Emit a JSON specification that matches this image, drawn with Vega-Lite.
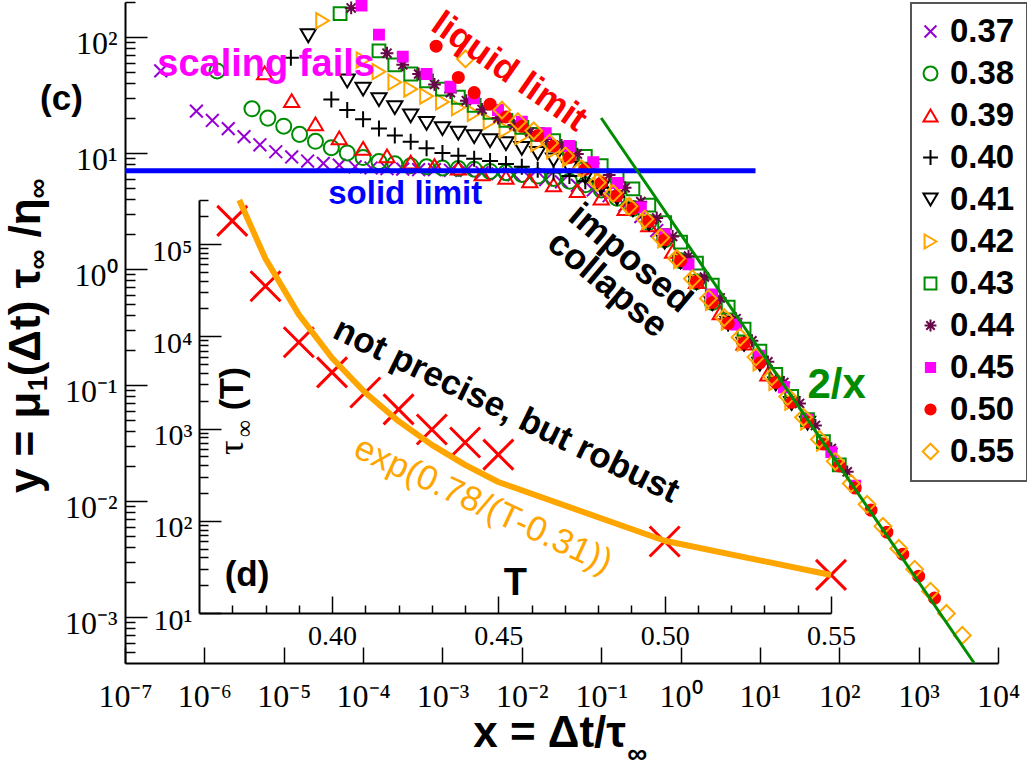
{
  "$schema": "https://vega.github.io/schema/vega-lite/v6.json",
  "description": "Scaling collapse y = mu1(dt) tau/eta vs x = dt/tau, with inset tau(T)",
  "width": 873,
  "height": 661,
  "autosize": "none",
  "padding": {"left": 125, "top": 2, "right": 29, "bottom": 105},
  "background": "white",
  "config": {
    "view": {"stroke": null},
    "axis": {"grid": false, "domainColor": "black", "tickColor": "black", "labelColor": "black"},
    "legend": {"strokeWidth": 2}
  },
  "resolve": {
    "scale": {"x": "independent", "y": "independent"},
    "axis": {"x": "independent", "y": "independent"}
  },
  "datasets": {
    "series": [
      {"T": "0.37", "x": 2.82e-7, "y": 50.9},
      {"T": "0.37", "x": 7.94e-7, "y": 22.9},
      {"T": "0.37", "x": 1.26e-6, "y": 19.05},
      {"T": "0.37", "x": 2.0e-6, "y": 16.2},
      {"T": "0.37", "x": 3.16e-6, "y": 13.8},
      {"T": "0.37", "x": 5.01e-6, "y": 11.75},
      {"T": "0.37", "x": 7.94e-6, "y": 10.23},
      {"T": "0.37", "x": 1.26e-5, "y": 9.23},
      {"T": "0.37", "x": 2.0e-5, "y": 8.51},
      {"T": "0.37", "x": 3.16e-5, "y": 8.13},
      {"T": "0.37", "x": 5.01e-5, "y": 7.85},
      {"T": "0.37", "x": 7.94e-5, "y": 7.59},
      {"T": "0.37", "x": 1.26e-4, "y": 7.41},
      {"T": "0.37", "x": 2.0e-4, "y": 7.33},
      {"T": "0.37", "x": 3.16e-4, "y": 7.24},
      {"T": "0.37", "x": 5.01e-4, "y": 7.16},
      {"T": "0.37", "x": 7.94e-4, "y": 7.16},
      {"T": "0.37", "x": 1.26e-3, "y": 7.08},
      {"T": "0.37", "x": 2.0e-3, "y": 7.08},
      {"T": "0.37", "x": 3.16e-3, "y": 6.76},
      {"T": "0.37", "x": 5.01e-3, "y": 6.61},
      {"T": "0.37", "x": 7.94e-3, "y": 6.46},
      {"T": "0.37", "x": 0.0126, "y": 6.17},
      {"T": "0.37", "x": 0.02, "y": 5.89},
      {"T": "0.37", "x": 0.0316, "y": 5.62},
      {"T": "0.37", "x": 0.0501, "y": 5.25},
      {"T": "0.37", "x": 0.0794, "y": 4.79},
      {"T": "0.37", "x": 0.126, "y": 4.27},
      {"T": "0.37", "x": 0.2, "y": 3.55},
      {"T": "0.37", "x": 0.316, "y": 2.82},
      {"T": "0.37", "x": 0.501, "y": 2.14},

      {"T": "0.38", "x": 1.445e-6, "y": 50.9},
      {"T": "0.38", "x": 3.98e-6, "y": 23.99},
      {"T": "0.38", "x": 6.31e-6, "y": 19.95},
      {"T": "0.38", "x": 1.0e-5, "y": 16.98},
      {"T": "0.38", "x": 1.585e-5, "y": 14.45},
      {"T": "0.38", "x": 2.51e-5, "y": 12.59},
      {"T": "0.38", "x": 3.98e-5, "y": 11.09},
      {"T": "0.38", "x": 6.31e-5, "y": 10.0},
      {"T": "0.38", "x": 1.0e-4, "y": 9.12},
      {"T": "0.38", "x": 1.585e-4, "y": 8.41},
      {"T": "0.38", "x": 2.51e-4, "y": 8.04},
      {"T": "0.38", "x": 3.98e-4, "y": 7.76},
      {"T": "0.38", "x": 6.31e-4, "y": 7.59},
      {"T": "0.38", "x": 1.0e-3, "y": 7.41},
      {"T": "0.38", "x": 1.585e-3, "y": 7.33},
      {"T": "0.38", "x": 2.51e-3, "y": 7.24},
      {"T": "0.38", "x": 3.98e-3, "y": 6.92},
      {"T": "0.38", "x": 6.31e-3, "y": 6.76},
      {"T": "0.38", "x": 0.01, "y": 6.53},
      {"T": "0.38", "x": 0.01585, "y": 6.31},
      {"T": "0.38", "x": 0.0251, "y": 6.03},
      {"T": "0.38", "x": 0.0398, "y": 5.69},
      {"T": "0.38", "x": 0.0631, "y": 5.31},
      {"T": "0.38", "x": 0.1, "y": 4.79},
      {"T": "0.38", "x": 0.1585, "y": 4.07},
      {"T": "0.38", "x": 0.251, "y": 3.31},
      {"T": "0.38", "x": 0.398, "y": 2.51},
      {"T": "0.38", "x": 0.631, "y": 1.78},
      {"T": "0.38", "x": 1.0, "y": 1.175},
      {"T": "0.38", "x": 1.585, "y": 0.776},
      {"T": "0.38", "x": 2.51, "y": 0.513},

      {"T": "0.39", "x": 5.75e-6, "y": 48.98},
      {"T": "0.39", "x": 1.26e-5, "y": 28.18},
      {"T": "0.39", "x": 2.51e-5, "y": 17.78},
      {"T": "0.39", "x": 5.01e-5, "y": 13.49},
      {"T": "0.39", "x": 1.0e-4, "y": 10.96},
      {"T": "0.39", "x": 2.0e-4, "y": 9.44},
      {"T": "0.39", "x": 3.98e-4, "y": 8.32},
      {"T": "0.39", "x": 7.94e-4, "y": 7.76},
      {"T": "0.39", "x": 1.585e-3, "y": 7.41},
      {"T": "0.39", "x": 3.16e-3, "y": 6.61},
      {"T": "0.39", "x": 6.31e-3, "y": 6.17},
      {"T": "0.39", "x": 0.0126, "y": 5.75},
      {"T": "0.39", "x": 0.0251, "y": 5.31},
      {"T": "0.39", "x": 0.0501, "y": 4.73},
      {"T": "0.39", "x": 0.1, "y": 4.07},
      {"T": "0.39", "x": 0.2, "y": 3.31},
      {"T": "0.39", "x": 0.398, "y": 2.4},
      {"T": "0.39", "x": 0.794, "y": 1.413},
      {"T": "0.39", "x": 1.585, "y": 0.776},
      {"T": "0.39", "x": 3.16, "y": 0.417},
      {"T": "0.39", "x": 6.31, "y": 0.229},
      {"T": "0.39", "x": 12.6, "y": 0.124},

      {"T": "0.40", "x": 1.23e-5, "y": 66.1},
      {"T": "0.40", "x": 3.98e-5, "y": 28.84},
      {"T": "0.40", "x": 6.31e-5, "y": 23.44},
      {"T": "0.40", "x": 1.0e-4, "y": 19.5},
      {"T": "0.40", "x": 1.585e-4, "y": 16.22},
      {"T": "0.40", "x": 2.51e-4, "y": 14.13},
      {"T": "0.40", "x": 3.98e-4, "y": 12.45},
      {"T": "0.40", "x": 6.31e-4, "y": 10.96},
      {"T": "0.40", "x": 1.0e-3, "y": 10.0},
      {"T": "0.40", "x": 1.585e-3, "y": 9.44},
      {"T": "0.40", "x": 2.51e-3, "y": 8.91},
      {"T": "0.40", "x": 3.98e-3, "y": 8.51},
      {"T": "0.40", "x": 6.31e-3, "y": 8.04},
      {"T": "0.40", "x": 0.01, "y": 7.59},
      {"T": "0.40", "x": 0.01585, "y": 7.16},
      {"T": "0.40", "x": 0.0251, "y": 6.76},
      {"T": "0.40", "x": 0.0398, "y": 6.31},
      {"T": "0.40", "x": 0.0631, "y": 5.69},
      {"T": "0.40", "x": 0.1, "y": 5.01},
      {"T": "0.40", "x": 0.1585, "y": 4.17},
      {"T": "0.40", "x": 0.251, "y": 3.31},
      {"T": "0.40", "x": 0.398, "y": 2.51},
      {"T": "0.40", "x": 0.631, "y": 1.74},
      {"T": "0.40", "x": 1.0, "y": 1.175},
      {"T": "0.40", "x": 1.585, "y": 0.776},
      {"T": "0.40", "x": 2.51, "y": 0.513},
      {"T": "0.40", "x": 3.98, "y": 0.339},
      {"T": "0.40", "x": 6.31, "y": 0.229},
      {"T": "0.40", "x": 10.0, "y": 0.155},
      {"T": "0.40", "x": 15.85, "y": 0.105},
      {"T": "0.40", "x": 25.1, "y": 0.0708},

      {"T": "0.41", "x": 2.04e-5, "y": 102.3},
      {"T": "0.41", "x": 6.31e-5, "y": 41.69},
      {"T": "0.41", "x": 1.0e-4, "y": 35.48},
      {"T": "0.41", "x": 1.585e-4, "y": 28.84},
      {"T": "0.41", "x": 2.51e-4, "y": 24.55},
      {"T": "0.41", "x": 3.98e-4, "y": 20.89},
      {"T": "0.41", "x": 6.31e-4, "y": 17.99},
      {"T": "0.41", "x": 1.0e-3, "y": 16.22},
      {"T": "0.41", "x": 1.585e-3, "y": 14.79},
      {"T": "0.41", "x": 2.51e-3, "y": 13.8},
      {"T": "0.41", "x": 3.98e-3, "y": 12.74},
      {"T": "0.41", "x": 6.31e-3, "y": 12.02},
      {"T": "0.41", "x": 0.01, "y": 10.96},
      {"T": "0.41", "x": 0.01585, "y": 9.89},
      {"T": "0.41", "x": 0.0251, "y": 8.71},
      {"T": "0.41", "x": 0.0398, "y": 7.41},
      {"T": "0.41", "x": 0.0631, "y": 6.17},
      {"T": "0.41", "x": 0.1, "y": 5.01},
      {"T": "0.41", "x": 0.1585, "y": 4.07},
      {"T": "0.41", "x": 0.251, "y": 3.24},
      {"T": "0.41", "x": 0.398, "y": 2.45},
      {"T": "0.41", "x": 0.631, "y": 1.7},
      {"T": "0.41", "x": 1.0, "y": 1.148},
      {"T": "0.41", "x": 1.585, "y": 0.759},
      {"T": "0.41", "x": 2.51, "y": 0.501},
      {"T": "0.41", "x": 3.98, "y": 0.339},
      {"T": "0.41", "x": 6.31, "y": 0.224},
      {"T": "0.41", "x": 10.0, "y": 0.151},
      {"T": "0.41", "x": 15.85, "y": 0.102},
      {"T": "0.41", "x": 25.1, "y": 0.0692},
      {"T": "0.41", "x": 39.8, "y": 0.0468},

      {"T": "0.42", "x": 3.09e-5, "y": 138},
      {"T": "0.42", "x": 1.0e-4, "y": 63.1},
      {"T": "0.42", "x": 1.585e-4, "y": 50.1},
      {"T": "0.42", "x": 2.51e-4, "y": 40.7},
      {"T": "0.42", "x": 3.98e-4, "y": 35.5},
      {"T": "0.42", "x": 6.31e-4, "y": 30.9},
      {"T": "0.42", "x": 1.0e-3, "y": 27.5},
      {"T": "0.42", "x": 1.585e-3, "y": 24.5},
      {"T": "0.42", "x": 2.51e-3, "y": 21.9},
      {"T": "0.42", "x": 3.98e-3, "y": 18.6},
      {"T": "0.42", "x": 6.31e-3, "y": 15.85},
      {"T": "0.42", "x": 0.01, "y": 13.8},
      {"T": "0.42", "x": 0.01585, "y": 12.02},
      {"T": "0.42", "x": 0.0251, "y": 10.47},
      {"T": "0.42", "x": 0.0398, "y": 8.91},
      {"T": "0.42", "x": 0.0631, "y": 7.41},
      {"T": "0.42", "x": 0.1, "y": 5.89},
      {"T": "0.42", "x": 0.1585, "y": 4.57},
      {"T": "0.42", "x": 0.251, "y": 3.47},
      {"T": "0.42", "x": 0.398, "y": 2.57},
      {"T": "0.42", "x": 0.631, "y": 1.78},
      {"T": "0.42", "x": 1.0, "y": 1.175},
      {"T": "0.42", "x": 1.585, "y": 0.776},
      {"T": "0.42", "x": 2.51, "y": 0.513},
      {"T": "0.42", "x": 3.98, "y": 0.347},
      {"T": "0.42", "x": 6.31, "y": 0.229},
      {"T": "0.42", "x": 10.0, "y": 0.155},
      {"T": "0.42", "x": 15.85, "y": 0.105},
      {"T": "0.42", "x": 25.1, "y": 0.0708},
      {"T": "0.42", "x": 39.8, "y": 0.0479},
      {"T": "0.42", "x": 63.1, "y": 0.0316},

      {"T": "0.43", "x": 5.13e-5, "y": 158.5},
      {"T": "0.43", "x": 1.585e-4, "y": 75.9},
      {"T": "0.43", "x": 2.51e-4, "y": 57.5},
      {"T": "0.43", "x": 3.98e-4, "y": 47.9},
      {"T": "0.43", "x": 6.31e-4, "y": 41.7},
      {"T": "0.43", "x": 1.0e-3, "y": 35.5},
      {"T": "0.43", "x": 1.585e-3, "y": 30.2},
      {"T": "0.43", "x": 2.51e-3, "y": 25.7},
      {"T": "0.43", "x": 3.98e-3, "y": 22.4},
      {"T": "0.43", "x": 6.31e-3, "y": 19.05},
      {"T": "0.43", "x": 0.01, "y": 16.6},
      {"T": "0.43", "x": 0.01585, "y": 14.45},
      {"T": "0.43", "x": 0.0251, "y": 12.74},
      {"T": "0.43", "x": 0.0398, "y": 10.96},
      {"T": "0.43", "x": 0.0631, "y": 9.33},
      {"T": "0.43", "x": 0.1, "y": 7.76},
      {"T": "0.43", "x": 0.1585, "y": 6.31},
      {"T": "0.43", "x": 0.251, "y": 4.9},
      {"T": "0.43", "x": 0.398, "y": 3.55},
      {"T": "0.43", "x": 0.631, "y": 2.51},
      {"T": "0.43", "x": 1.0, "y": 1.7},
      {"T": "0.43", "x": 1.585, "y": 1.122},
      {"T": "0.43", "x": 2.51, "y": 0.724},
      {"T": "0.43", "x": 3.98, "y": 0.468},
      {"T": "0.43", "x": 6.31, "y": 0.302},
      {"T": "0.43", "x": 10.0, "y": 0.195},
      {"T": "0.43", "x": 15.85, "y": 0.123},
      {"T": "0.43", "x": 25.1, "y": 0.0794},
      {"T": "0.43", "x": 39.8, "y": 0.0501},
      {"T": "0.43", "x": 63.1, "y": 0.0324},
      {"T": "0.43", "x": 100, "y": 0.0204},

      {"T": "0.44", "x": 7.08e-5, "y": 177.8},
      {"T": "0.44", "x": 2.0e-4, "y": 72.4},
      {"T": "0.44", "x": 3.16e-4, "y": 57.5},
      {"T": "0.44", "x": 5.01e-4, "y": 47.9},
      {"T": "0.44", "x": 7.94e-4, "y": 38.9},
      {"T": "0.44", "x": 1.26e-3, "y": 33.1},
      {"T": "0.44", "x": 2.0e-3, "y": 28.2},
      {"T": "0.44", "x": 3.16e-3, "y": 23.7},
      {"T": "0.44", "x": 5.01e-3, "y": 19.95},
      {"T": "0.44", "x": 7.94e-3, "y": 17.38},
      {"T": "0.44", "x": 0.0126, "y": 15.14},
      {"T": "0.44", "x": 0.02, "y": 13.18},
      {"T": "0.44", "x": 0.0316, "y": 11.61},
      {"T": "0.44", "x": 0.0501, "y": 9.77},
      {"T": "0.44", "x": 0.0794, "y": 8.13},
      {"T": "0.44", "x": 0.126, "y": 6.46},
      {"T": "0.44", "x": 0.2, "y": 5.01},
      {"T": "0.44", "x": 0.316, "y": 3.8},
      {"T": "0.44", "x": 0.501, "y": 2.75},
      {"T": "0.44", "x": 0.794, "y": 1.905},
      {"T": "0.44", "x": 1.26, "y": 1.288},
      {"T": "0.44", "x": 2.0, "y": 0.851},
      {"T": "0.44", "x": 3.16, "y": 0.562},
      {"T": "0.44", "x": 5.01, "y": 0.372},
      {"T": "0.44", "x": 7.94, "y": 0.24},
      {"T": "0.44", "x": 12.6, "y": 0.158},
      {"T": "0.44", "x": 20.0, "y": 0.105},
      {"T": "0.44", "x": 31.6, "y": 0.0692},
      {"T": "0.44", "x": 50.1, "y": 0.0447},
      {"T": "0.44", "x": 79.4, "y": 0.0282},
      {"T": "0.44", "x": 126, "y": 0.0178},

      {"T": "0.45", "x": 9.55e-5, "y": 186},
      {"T": "0.45", "x": 1.585e-4, "y": 104.7},
      {"T": "0.45", "x": 3.16e-4, "y": 67.6},
      {"T": "0.45", "x": 6.31e-4, "y": 47.9},
      {"T": "0.45", "x": 1.26e-3, "y": 37.15},
      {"T": "0.45", "x": 2.51e-3, "y": 29.5},
      {"T": "0.45", "x": 5.01e-3, "y": 23.4},
      {"T": "0.45", "x": 0.01, "y": 18.6},
      {"T": "0.45", "x": 0.02, "y": 14.8},
      {"T": "0.45", "x": 0.0398, "y": 11.48},
      {"T": "0.45", "x": 0.0794, "y": 8.32},
      {"T": "0.45", "x": 0.1585, "y": 5.5},
      {"T": "0.45", "x": 0.316, "y": 3.39},
      {"T": "0.45", "x": 0.631, "y": 1.995},
      {"T": "0.45", "x": 1.26, "y": 1.096},
      {"T": "0.45", "x": 2.51, "y": 0.603},
      {"T": "0.45", "x": 5.01, "y": 0.331},
      {"T": "0.45", "x": 10.0, "y": 0.178},
      {"T": "0.45", "x": 20.0, "y": 0.0955},
      {"T": "0.45", "x": 39.8, "y": 0.0501},
      {"T": "0.45", "x": 79.4, "y": 0.0263},
      {"T": "0.45", "x": 158.5, "y": 0.0135},

      {"T": "0.50", "x": 8.32e-4, "y": 83.2},
      {"T": "0.50", "x": 1.585e-3, "y": 44.7},
      {"T": "0.50", "x": 2.51e-3, "y": 33.1},
      {"T": "0.50", "x": 3.98e-3, "y": 26.3},
      {"T": "0.50", "x": 6.31e-3, "y": 20.4},
      {"T": "0.50", "x": 0.01, "y": 17.0},
      {"T": "0.50", "x": 0.01585, "y": 14.1},
      {"T": "0.50", "x": 0.0251, "y": 11.5},
      {"T": "0.50", "x": 0.0398, "y": 9.12},
      {"T": "0.50", "x": 0.0631, "y": 7.24},
      {"T": "0.50", "x": 0.1, "y": 5.5},
      {"T": "0.50", "x": 0.1585, "y": 4.27},
      {"T": "0.50", "x": 0.251, "y": 3.31},
      {"T": "0.50", "x": 0.398, "y": 2.57},
      {"T": "0.50", "x": 0.631, "y": 1.78},
      {"T": "0.50", "x": 1.0, "y": 1.175},
      {"T": "0.50", "x": 1.585, "y": 0.776},
      {"T": "0.50", "x": 2.51, "y": 0.513},
      {"T": "0.50", "x": 3.98, "y": 0.339},
      {"T": "0.50", "x": 6.31, "y": 0.229},
      {"T": "0.50", "x": 10.0, "y": 0.155},
      {"T": "0.50", "x": 15.85, "y": 0.105},
      {"T": "0.50", "x": 25.1, "y": 0.0708},
      {"T": "0.50", "x": 39.8, "y": 0.0479},
      {"T": "0.50", "x": 63.1, "y": 0.0309},
      {"T": "0.50", "x": 100, "y": 0.02},
      {"T": "0.50", "x": 158.5, "y": 0.0129},
      {"T": "0.50", "x": 251, "y": 0.00832},
      {"T": "0.50", "x": 398, "y": 0.00537},
      {"T": "0.50", "x": 631, "y": 0.00347},
      {"T": "0.50", "x": 1000, "y": 0.00224},
      {"T": "0.50", "x": 1585, "y": 0.00145},

      {"T": "0.55", "x": 1.95e-3, "y": 64.6},
      {"T": "0.55", "x": 5.62e-3, "y": 23.4},
      {"T": "0.55", "x": 8.91e-3, "y": 18.6},
      {"T": "0.55", "x": 0.01413, "y": 15.5},
      {"T": "0.55", "x": 0.0224, "y": 12.16},
      {"T": "0.55", "x": 0.0355, "y": 9.44},
      {"T": "0.55", "x": 0.0562, "y": 7.33},
      {"T": "0.55", "x": 0.0891, "y": 5.56},
      {"T": "0.55", "x": 0.1413, "y": 4.47},
      {"T": "0.55", "x": 0.224, "y": 3.47},
      {"T": "0.55", "x": 0.355, "y": 2.69},
      {"T": "0.55", "x": 0.562, "y": 1.862},
      {"T": "0.55", "x": 0.891, "y": 1.23},
      {"T": "0.55", "x": 1.413, "y": 0.822},
      {"T": "0.55", "x": 2.239, "y": 0.556},
      {"T": "0.55", "x": 3.548, "y": 0.38},
      {"T": "0.55", "x": 5.623, "y": 0.257},
      {"T": "0.55", "x": 8.913, "y": 0.174},
      {"T": "0.55", "x": 14.13, "y": 0.1175},
      {"T": "0.55", "x": 22.39, "y": 0.0794},
      {"T": "0.55", "x": 35.48, "y": 0.0525},
      {"T": "0.55", "x": 56.23, "y": 0.0339},
      {"T": "0.55", "x": 89.13, "y": 0.0219},
      {"T": "0.55", "x": 141.3, "y": 0.01413},
      {"T": "0.55", "x": 223.9, "y": 0.00933},
      {"T": "0.55", "x": 354.8, "y": 0.00603},
      {"T": "0.55", "x": 562.3, "y": 0.00389},
      {"T": "0.55", "x": 891.3, "y": 0.00257},
      {"T": "0.55", "x": 1413, "y": 0.00166},
      {"T": "0.55", "x": 2239, "y": 0.00107},
      {"T": "0.55", "x": 3548, "y": 0.000692}
    ],
    "inset": [
      {"temp": 0.37, "tau": 178000},
      {"temp": 0.38, "tau": 34900},
      {"temp": 0.39, "tau": 8610},
      {"temp": 0.40, "tau": 4060},
      {"temp": 0.41, "tau": 2460},
      {"temp": 0.42, "tau": 1610},
      {"temp": 0.43, "tau": 975},
      {"temp": 0.44, "tau": 705},
      {"temp": 0.45, "tau": 521},
      {"temp": 0.50, "tau": 59.6},
      {"temp": 0.55, "tau": 25.9}
    ],
    "curve": [
      {"temp": 0.3721, "tau": 300000},
      {"temp": 0.38, "tau": 69100},
      {"temp": 0.39, "tau": 17200},
      {"temp": 0.40, "tau": 5810},
      {"temp": 0.41, "tau": 2441},
      {"temp": 0.42, "tau": 1201},
      {"temp": 0.43, "tau": 665},
      {"temp": 0.44, "tau": 403},
      {"temp": 0.45, "tau": 263},
      {"temp": 0.50, "tau": 60.7},
      {"temp": 0.55, "tau": 25.8}
    ]
  },
  "layer": [
    {
      "data": {"name": "series"},
      "mark": {"type": "point", "size": 256, "strokeWidth": 2, "opacity": 1},
      "encoding": {
        "x": {
          "field": "x", "type": "quantitative",
          "scale": {"type": "log", "domain": [1e-7, 10000], "nice": false},
          "axis": {
            "orient": "bottom", "title": null,
            "values": [1e-7, 1e-6, 1e-5, 1e-4, 1e-3, 1e-2, 1e-1, 1, 10, 100, 1000, 10000],
            "labelExpr": "'10' + (datum.value < 0.9 ? '⁻' : '') + ['⁰','¹','²','³','⁴','⁵','⁶','⁷','⁸','⁹'][abs(round(log(datum.value) / LN10))]",
            "labelFont": "Liberation Serif", "labelFontSize": 32, "labelPadding": 34,
            "labelFlush": false, "labelOverlap": false,
            "tickSize": -16, "tickWidth": 1.5, "domainWidth": 2
          }
        },
        "y": {
          "field": "y", "type": "quantitative",
          "scale": {"type": "log", "domain": [0.0004, 200], "nice": false},
          "axis": {
            "orient": "left", "title": null,
            "values": [0.001, 0.01, 0.1, 1, 10, 100],
            "labelExpr": "'10' + (datum.value < 0.9 ? '⁻' : '') + ['⁰','¹','²','³','⁴','⁵','⁶','⁷','⁸','⁹'][abs(round(log(datum.value) / LN10))]",
            "labelFont": "Liberation Serif", "labelFontSize": 32, "labelPadding": 30,
            "labelOffset": 7, "labelFlush": false, "labelOverlap": false,
            "tickSize": -22, "tickWidth": 1.5, "domainWidth": 2
          }
        },
        "stroke": {
          "field": "T", "type": "nominal",
          "scale": {
            "domain": ["0.37", "0.38", "0.39", "0.40", "0.41", "0.42", "0.43", "0.44", "0.45", "0.50", "0.55"],
            "range": ["#9400d3", "#008c00", "#ff0000", "#000000", "#000000", "#ffa500", "#008c00", "#670748", "#ff00ff", "#ff0000", "#ffa500"]
          },
          "legend": {"orient": "none", "legendX": 786, "legendY": 1, "title": null, "padding": 12, "strokeColor": "#555555", "fillColor": "#ffffff", "labelFont": "Liberation Sans", "labelFontWeight": "bold", "labelFontSize": 33, "labelColor": "#000000", "labelOffset": 3, "symbolOffset": -9, "rowPadding": 8, "symbolSize": 220, "symbolStrokeWidth": 2}
        },
        "fill": {
          "field": "T", "type": "nominal",
          "scale": {
            "domain": ["0.37", "0.38", "0.39", "0.40", "0.41", "0.42", "0.43", "0.44", "0.45", "0.50", "0.55"],
            "range": ["transparent", "transparent", "transparent", "transparent", "transparent", "transparent", "transparent", "transparent", "#ff00ff", "#ff0000", "transparent"]
          },
          "legend": {"orient": "none", "legendX": 786, "legendY": 1, "title": null, "padding": 12, "strokeColor": "#555555", "fillColor": "#ffffff", "labelFont": "Liberation Sans", "labelFontWeight": "bold", "labelFontSize": 33, "labelColor": "#000000", "labelOffset": 3, "symbolOffset": -9, "rowPadding": 8, "symbolSize": 220, "symbolStrokeWidth": 2}
        },
        "shape": {
          "field": "T", "type": "nominal",
          "scale": {
            "domain": ["0.37", "0.38", "0.39", "0.40", "0.41", "0.42", "0.43", "0.44", "0.45", "0.50", "0.55"],
            "range": [
              "M-0.8,-0.8L0.8,0.8M-0.8,0.8L0.8,-0.8",
              "M0.94,0A0.94,0.94,0,1,1,-0.94,0A0.94,0.94,0,1,1,0.94,0Z",
              "M0,-0.8L0.95,0.8L-0.95,0.8Z",
              "M-1,0L1,0M0,-1L0,1",
              "M0,0.8L0.95,-0.8L-0.95,-0.8Z",
              "M0.8,0L-0.8,0.95L-0.8,-0.95Z",
              "M-0.8,-0.8L0.8,-0.8L0.8,0.8L-0.8,0.8Z",
              "M-0.8,0L0.8,0M0,-0.8L0,0.8M-0.57,-0.57L0.57,0.57M-0.57,0.57L0.57,-0.57",
              "M-0.62,-0.62L0.62,-0.62L0.62,0.62L-0.62,0.62Z",
              "M0.69,0A0.69,0.69,0,1,1,-0.69,0A0.69,0.69,0,1,1,0.69,0Z",
              "M0,-1.05L1.05,0L0,1.05L-1.05,0Z"
            ]
          },
          "legend": {"orient": "none", "legendX": 786, "legendY": 1, "title": null, "padding": 12, "strokeColor": "#555555", "fillColor": "#ffffff", "labelFont": "Liberation Sans", "labelFontWeight": "bold", "labelFontSize": 33, "labelColor": "#000000", "labelOffset": 3, "symbolOffset": -9, "rowPadding": 8, "symbolSize": 220, "symbolStrokeWidth": 2}
        }
      }
    },
    {
      "data": {"values": [{"x": 1e-7, "y": 7}, {"x": 8.8, "y": 7}]},
      "mark": {"type": "line", "color": "#0000ff", "strokeWidth": 5},
      "encoding": {
        "x": {"field": "x", "type": "quantitative", "scale": {"type": "log", "domain": [1e-7, 10000], "nice": false}, "axis": null},
        "y": {
          "field": "y", "type": "quantitative",
          "scale": {"type": "log", "domain": [0.0004, 200], "nice": false},
          "axis": {
            "orient": "left", "title": null, "labels": false, "domain": false,
            "values": [0.0005, 0.0006, 0.0007, 0.0008, 0.0009, 0.002, 0.003, 0.004, 0.005, 0.006, 0.007, 0.008, 0.009, 0.02, 0.03, 0.04, 0.05, 0.06, 0.07, 0.08, 0.09, 0.2, 0.3, 0.4, 0.5, 0.6, 0.7, 0.8, 0.9, 2, 3, 4, 5, 6, 7, 8, 9, 20, 30, 40, 50, 60, 70, 80, 90, 200],
            "tickSize": -10, "tickWidth": 1.5
          }
        }
      }
    },
    {
      "data": {"values": [{"x": 0.1, "y": 20}, {"x": 5000, "y": 0.0004}]},
      "mark": {"type": "line", "color": "#008c00", "strokeWidth": 3},
      "encoding": {
        "x": {"field": "x", "type": "quantitative", "scale": {"type": "log", "domain": [1e-7, 10000], "nice": false}, "axis": null},
        "y": {"field": "y", "type": "quantitative", "scale": {"type": "log", "domain": [0.0004, 200], "nice": false}, "axis": null}
      }
    },
    {
      "data": {"name": "inset"},
      "mark": {"type": "point", "shape": "M-1,-1L1,1M-1,1L1,-1", "size": 900, "strokeWidth": 3, "color": "#ff0000", "opacity": 1},
      "encoding": {
        "x": {
          "field": "temp", "type": "quantitative",
          "scale": {"domain": [0.36, 0.55], "range": [74, 706], "nice": false, "zero": false},
          "axis": {
            "orient": "bottom", "offset": -50, "title": null, "labels": false, "domain": false,
            "values": [0.37, 0.38, 0.39, 0.41, 0.42, 0.43, 0.44, 0.46, 0.47, 0.48, 0.49, 0.51, 0.52, 0.53, 0.54],
            "tickSize": -8, "tickWidth": 1.5
          }
        },
        "y": {
          "field": "tau", "type": "quantitative",
          "scale": {"type": "log", "domain": [10, 300000], "range": [611, 198], "nice": false},
          "axis": {
            "orient": "left", "offset": -74, "title": null, "labels": false, "domain": false,
            "values": [20, 30, 40, 50, 60, 70, 80, 90, 200, 300, 400, 500, 600, 700, 800, 900, 2000, 3000, 4000, 5000, 6000, 7000, 8000, 9000, 20000, 30000, 40000, 50000, 60000, 70000, 80000, 90000, 200000, 300000],
            "tickSize": -9, "tickWidth": 1.5
          }
        }
      }
    },
    {
      "data": {"name": "curve"},
      "mark": {"type": "line", "color": "#ffa500", "strokeWidth": 6, "strokeJoin": "round"},
      "encoding": {
        "x": {
          "field": "temp", "type": "quantitative",
          "scale": {"domain": [0.36, 0.55], "range": [74, 706], "nice": false, "zero": false},
          "axis": {
            "orient": "bottom", "offset": -50, "title": null,
            "values": [0.4, 0.45, 0.5, 0.55], "format": ".2f",
            "labelFont": "Liberation Serif", "labelFontSize": 28, "labelPadding": 26,
            "labelFlush": false, "labelOverlap": false,
            "tickSize": -17, "tickWidth": 1.5, "domainWidth": 2
          }
        },
        "y": {
          "field": "tau", "type": "quantitative",
          "scale": {"type": "log", "domain": [10, 300000], "range": [611, 198], "nice": false},
          "axis": {
            "orient": "left", "offset": -74, "title": null,
            "values": [10, 100, 1000, 10000, 100000],
            "labelExpr": "'10' + ['⁰','¹','²','³','⁴','⁵','⁶','⁷','⁸','⁹'][abs(round(log(datum.value) / LN10))]",
            "labelFont": "Liberation Serif", "labelFontSize": 30, "labelPadding": 29,
            "labelOffset": 7, "labelFlush": false, "labelOverlap": false,
            "tickSize": -22, "tickWidth": 1.5, "domainWidth": 2
          }
        }
      }
    },
    {
      "data": {"values": [{"label": "(c)", "x": 1.58e-8, "y": 23.3}, {"label": "(d)", "x": 3.45e-6, "y": 0.00185}]},
      "mark": {"type": "text", "font": "Liberation Sans", "fontWeight": "bold", "fontSize": 35, "color": "#000000", "align": "center", "baseline": "alphabetic"},
      "encoding": {
        "x": {"field": "x", "type": "quantitative", "scale": {"type": "log", "domain": [1e-7, 10000], "nice": false}, "axis": null},
        "y": {"field": "y", "type": "quantitative", "scale": {"type": "log", "domain": [0.0004, 200], "nice": false}, "axis": null},
        "text": {"field": "label"}
      }
    },
    {
      "data": {"values": [{"label": "scaling fails", "x": 6.0e-6, "y": 46.1}]},
      "mark": {"type": "text", "font": "Liberation Sans", "fontWeight": "bold", "fontSize": 38, "color": "#ff00ff", "align": "center", "baseline": "alphabetic"},
      "encoding": {
        "x": {"field": "x", "type": "quantitative", "scale": {"type": "log", "domain": [1e-7, 10000], "nice": false}, "axis": null},
        "y": {"field": "y", "type": "quantitative", "scale": {"type": "log", "domain": [0.0004, 200], "nice": false}, "axis": null},
        "text": {"field": "label"}
      }
    },
    {
      "data": {"values": [{"label": "liquid limit", "x": 6.95e-3, "y": 50}]},
      "mark": {"type": "text", "font": "Liberation Sans", "fontWeight": "bold", "fontSize": 36, "color": "#ff0000", "align": "center", "baseline": "middle", "angle": 35},
      "encoding": {
        "x": {"field": "x", "type": "quantitative", "scale": {"type": "log", "domain": [1e-7, 10000], "nice": false}, "axis": null},
        "y": {"field": "y", "type": "quantitative", "scale": {"type": "log", "domain": [0.0004, 200], "nice": false}, "axis": null},
        "text": {"field": "label"}
      }
    },
    {
      "data": {"values": [{"label": "solid limit", "x": 3.4e-4, "y": 3.66}]},
      "mark": {"type": "text", "font": "Liberation Sans", "fontWeight": "bold", "fontSize": 33, "color": "#0000ff", "align": "center", "baseline": "alphabetic"},
      "encoding": {
        "x": {"field": "x", "type": "quantitative", "scale": {"type": "log", "domain": [1e-7, 10000], "nice": false}, "axis": null},
        "y": {"field": "y", "type": "quantitative", "scale": {"type": "log", "domain": [0.0004, 200], "nice": false}, "axis": null},
        "text": {"field": "label"}
      }
    },
    {
      "data": {"values": [{"label": "imposed", "x": 0.233, "y": 1.229}, {"label": "collapse", "x": 0.1197, "y": 0.735}]},
      "mark": {"type": "text", "font": "Liberation Sans", "fontWeight": "bold", "fontSize": 36, "color": "#000000", "align": "center", "baseline": "middle", "angle": 40},
      "encoding": {
        "x": {"field": "x", "type": "quantitative", "scale": {"type": "log", "domain": [1e-7, 10000], "nice": false}, "axis": null},
        "y": {"field": "y", "type": "quantitative", "scale": {"type": "log", "domain": [0.0004, 200], "nice": false}, "axis": null},
        "text": {"field": "label"}
      }
    },
    {
      "data": {"values": [{"label": "2/x", "x": 92.5, "y": 0.0767}]},
      "mark": {"type": "text", "font": "Liberation Sans", "fontWeight": "bold", "fontSize": 42, "color": "#008c00", "align": "center", "baseline": "alphabetic"},
      "encoding": {
        "x": {"field": "x", "type": "quantitative", "scale": {"type": "log", "domain": [1e-7, 10000], "nice": false}, "axis": null},
        "y": {"field": "y", "type": "quantitative", "scale": {"type": "log", "domain": [0.0004, 200], "nice": false}, "axis": null},
        "text": {"field": "label"}
      }
    },
    {
      "data": {"values": [{"label": "not precise, but robust", "x": 6.38e-3, "y": 0.0604}]},
      "mark": {"type": "text", "font": "Liberation Sans", "fontWeight": "bold", "fontSize": 35, "color": "#000000", "align": "center", "baseline": "middle", "angle": 26},
      "encoding": {
        "x": {"field": "x", "type": "quantitative", "scale": {"type": "log", "domain": [1e-7, 10000], "nice": false}, "axis": null},
        "y": {"field": "y", "type": "quantitative", "scale": {"type": "log", "domain": [0.0004, 200], "nice": false}, "axis": null},
        "text": {"field": "label"}
      }
    },
    {
      "data": {"values": [{"label": "exp(0.78/(T-0.31))", "x": 3.27e-3, "y": 0.0092}]},
      "mark": {"type": "text", "font": "Liberation Sans", "fontSize": 35, "color": "#ffa500", "align": "center", "baseline": "middle", "angle": 25},
      "encoding": {
        "x": {"field": "x", "type": "quantitative", "scale": {"type": "log", "domain": [1e-7, 10000], "nice": false}, "axis": null},
        "y": {"field": "y", "type": "quantitative", "scale": {"type": "log", "domain": [0.0004, 200], "nice": false}, "axis": null},
        "text": {"field": "label"}
      }
    },
    {
      "data": {"values": [{"label": "T", "x": 8.28e-3, "y": 0.001545}]},
      "mark": {"type": "text", "font": "Liberation Sans", "fontWeight": "bold", "fontSize": 38, "color": "#000000", "align": "center", "baseline": "alphabetic"},
      "encoding": {
        "x": {"field": "x", "type": "quantitative", "scale": {"type": "log", "domain": [1e-7, 10000], "nice": false}, "axis": null},
        "y": {"field": "y", "type": "quantitative", "scale": {"type": "log", "domain": [0.0004, 200], "nice": false}, "axis": null},
        "text": {"field": "label"}
      }
    },
    {
      "data": {"values": [{"label": "(T)", "x": 3.08e-6, "y": 0.0604}]},
      "mark": {"type": "text", "font": "Liberation Sans", "fontWeight": "bold", "fontSize": 34, "color": "#000000", "align": "left", "baseline": "alphabetic", "angle": 270},
      "encoding": {
        "x": {"field": "x", "type": "quantitative", "scale": {"type": "log", "domain": [1e-7, 10000], "nice": false}, "axis": null},
        "y": {"field": "y", "type": "quantitative", "scale": {"type": "log", "domain": [0.0004, 200], "nice": false}, "axis": null},
        "text": {"field": "label"}
      }
    },
    {
      "data": {"values": [{"label": "τ", "x": 3.08e-6, "y": 0.0248}]},
      "mark": {"type": "text", "font": "Liberation Serif", "fontSize": 36, "color": "#000000", "align": "left", "baseline": "alphabetic", "angle": 270},
      "encoding": {
        "x": {"field": "x", "type": "quantitative", "scale": {"type": "log", "domain": [1e-7, 10000], "nice": false}, "axis": null},
        "y": {"field": "y", "type": "quantitative", "scale": {"type": "log", "domain": [0.0004, 200], "nice": false}, "axis": null},
        "text": {"field": "label"}
      }
    },
    {
      "data": {"values": [{"label": "∞", "x": 4.0e-6, "y": 0.0354}]},
      "mark": {"type": "text", "font": "Liberation Serif", "fontSize": 24, "color": "#000000", "align": "left", "baseline": "alphabetic", "angle": 270},
      "encoding": {
        "x": {"field": "x", "type": "quantitative", "scale": {"type": "log", "domain": [1e-7, 10000], "nice": false}, "axis": null},
        "y": {"field": "y", "type": "quantitative", "scale": {"type": "log", "domain": [0.0004, 200], "nice": false}, "axis": null},
        "text": {"field": "label"}
      }
    },
    {
      "data": {"values": [{"label": "x = Δt/τ", "x": 2.44e-3, "y": 7.6e-5}]},
      "mark": {"type": "text", "font": "Liberation Sans", "fontWeight": "bold", "fontSize": 44, "color": "#000000", "align": "left", "baseline": "alphabetic"},
      "encoding": {
        "x": {"field": "x", "type": "quantitative", "scale": {"type": "log", "domain": [1e-7, 10000], "nice": false}, "axis": null},
        "y": {"field": "y", "type": "quantitative", "scale": {"type": "log", "domain": [0.0004, 200], "nice": false}, "axis": null},
        "text": {"field": "label"}
      }
    },
    {
      "data": {"values": [{"label": "∞", "x": 0.2138, "y": 5.53e-5}]},
      "mark": {"type": "text", "font": "Liberation Sans", "fontWeight": "bold", "fontSize": 28, "color": "#000000", "align": "left", "baseline": "alphabetic"},
      "encoding": {
        "x": {"field": "x", "type": "quantitative", "scale": {"type": "log", "domain": [1e-7, 10000], "nice": false}, "axis": null},
        "y": {"field": "y", "type": "quantitative", "scale": {"type": "log", "domain": [0.0004, 200], "nice": false}, "axis": null},
        "text": {"field": "label"}
      }
    },
    {
      "data": {"values": [{"label": "y = μ", "x": 8.47e-9, "y": 0.01167}, {"label": "(Δt) τ", "x": 8.47e-9, "y": 0.1186}, {"label": "/η", "x": 8.47e-9, "y": 1.862}]},
      "mark": {"type": "text", "font": "Liberation Sans", "fontWeight": "bold", "fontSize": 44, "color": "#000000", "align": "left", "baseline": "alphabetic", "angle": 270},
      "encoding": {
        "x": {"field": "x", "type": "quantitative", "scale": {"type": "log", "domain": [1e-7, 10000], "nice": false}, "axis": null},
        "y": {"field": "y", "type": "quantitative", "scale": {"type": "log", "domain": [0.0004, 200], "nice": false}, "axis": null},
        "text": {"field": "label"}
      }
    },
    {
      "data": {"values": [{"label": "1", "x": 1.04e-8, "y": 0.0881}, {"label": "∞", "x": 1.04e-8, "y": 0.989}, {"label": "∞", "x": 1.04e-8, "y": 4.04}]},
      "mark": {"type": "text", "font": "Liberation Sans", "fontWeight": "bold", "fontSize": 28, "color": "#000000", "align": "left", "baseline": "alphabetic", "angle": 270},
      "encoding": {
        "x": {"field": "x", "type": "quantitative", "scale": {"type": "log", "domain": [1e-7, 10000], "nice": false}, "axis": null},
        "y": {"field": "y", "type": "quantitative", "scale": {"type": "log", "domain": [0.0004, 200], "nice": false}, "axis": null},
        "text": {"field": "label"}
      }
    }
  ]
}
